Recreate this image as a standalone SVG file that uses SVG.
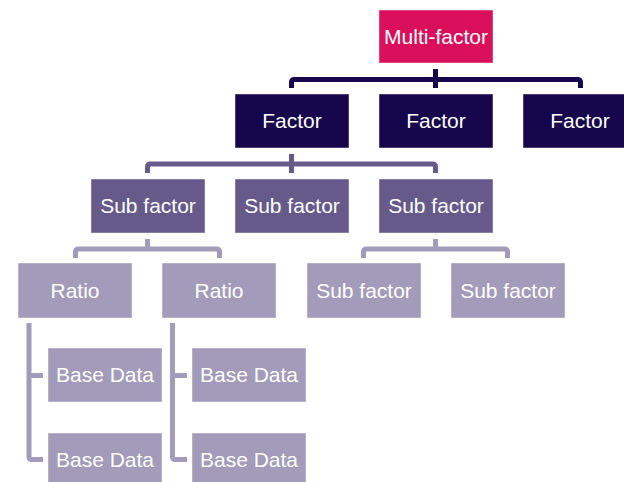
<svg xmlns="http://www.w3.org/2000/svg" width="624" height="482" viewBox="0 0 624 482">
<style>
  .box rect { stroke: #ffffff; stroke-opacity: 0.45; stroke-width: 1; }
  .l0 rect { fill: #D90F5C; }
  .l1 rect { fill: #16074D; }
  .l2 rect { fill: #665A8B; }
  .l3 rect { fill: #A29BB9; }
  .box text { fill: #ffffff; font-family: "Liberation Sans", Arial, sans-serif; font-size: 21px; text-anchor: middle; }
  .c { fill: none; stroke-width: 5; stroke-linecap: butt; stroke-linejoin: round; }
  .c1 { stroke: #16074D; }
  .c2 { stroke: #665A8B; }
  .c3 { stroke: #A29BB9; }
</style>
<rect width="624" height="482" fill="#ffffff"/>
<g id="connectors">
  <path class="c c1" d="M435.5 69 V88 M291.5 88 V82.5 Q291.5 79.5 294.5 79.5 H577.5 Q580.5 79.5 580.5 82.5 V88"/>
  <path class="c c2" d="M291.5 154 V173 M147.5 173 V167 Q147.5 164 150.5 164 H432.5 Q435.5 164 435.5 167 V173"/>
  <path class="c c3" d="M147.5 239 V249 M75.5 258 V252 Q75.5 249 78.5 249 H216.5 Q219.5 249 219.5 252 V258"/>
  <path class="c c3" d="M435.5 239 V249 M363.5 258 V252 Q363.5 249 366.5 249 H504.5 Q507.5 249 507.5 252 V258"/>
  <path class="c c3" d="M29 323 V456.5 Q29 459.5 32 459.5 H43 M29 375.5 H43"/>
  <path class="c c3" d="M172.5 323 V456.5 Q172.5 459.5 175.5 459.5 H187 M172.5 375.5 H187"/>
</g>
<g id="multi-factor" class="box l0"><rect x="379" y="10" width="114" height="53"/><text x="436" y="44">Multi-factor</text></g>
<g id="factor-1" class="box l1"><rect x="235" y="94" width="114" height="54"/><text x="292" y="128">Factor</text></g>
<g id="factor-2" class="box l1"><rect x="379" y="94" width="114" height="54"/><text x="436" y="128">Factor</text></g>
<g id="factor-3" class="box l1"><rect x="523" y="94" width="114" height="54"/><text x="580" y="128">Factor</text></g>
<g id="subfactor-1" class="box l2"><rect x="91" y="179" width="114" height="54"/><text x="148" y="213">Sub factor</text></g>
<g id="subfactor-2" class="box l2"><rect x="235" y="179" width="114" height="54"/><text x="292" y="213">Sub factor</text></g>
<g id="subfactor-3" class="box l2"><rect x="379" y="179" width="114" height="54"/><text x="436" y="213">Sub factor</text></g>
<g id="ratio-1" class="box l3"><rect x="18" y="263" width="114" height="55"/><text x="75" y="298">Ratio</text></g>
<g id="ratio-2" class="box l3"><rect x="162" y="263" width="114" height="55"/><text x="219" y="298">Ratio</text></g>
<g id="subfactor-3-1" class="box l3"><rect x="307" y="263" width="114" height="55"/><text x="364" y="298">Sub factor</text></g>
<g id="subfactor-3-2" class="box l3"><rect x="451" y="263" width="114" height="55"/><text x="508" y="298">Sub factor</text></g>
<g id="base-1-1" class="box l3"><rect x="48" y="348" width="114" height="54"/><text x="105" y="382">Base Data</text></g>
<g id="base-1-2" class="box l3"><rect x="48" y="433" width="114" height="54"/><text x="105" y="467">Base Data</text></g>
<g id="base-2-1" class="box l3"><rect x="192" y="348" width="114" height="54"/><text x="249" y="382">Base Data</text></g>
<g id="base-2-2" class="box l3"><rect x="192" y="433" width="114" height="54"/><text x="249" y="467">Base Data</text></g>
</svg>
